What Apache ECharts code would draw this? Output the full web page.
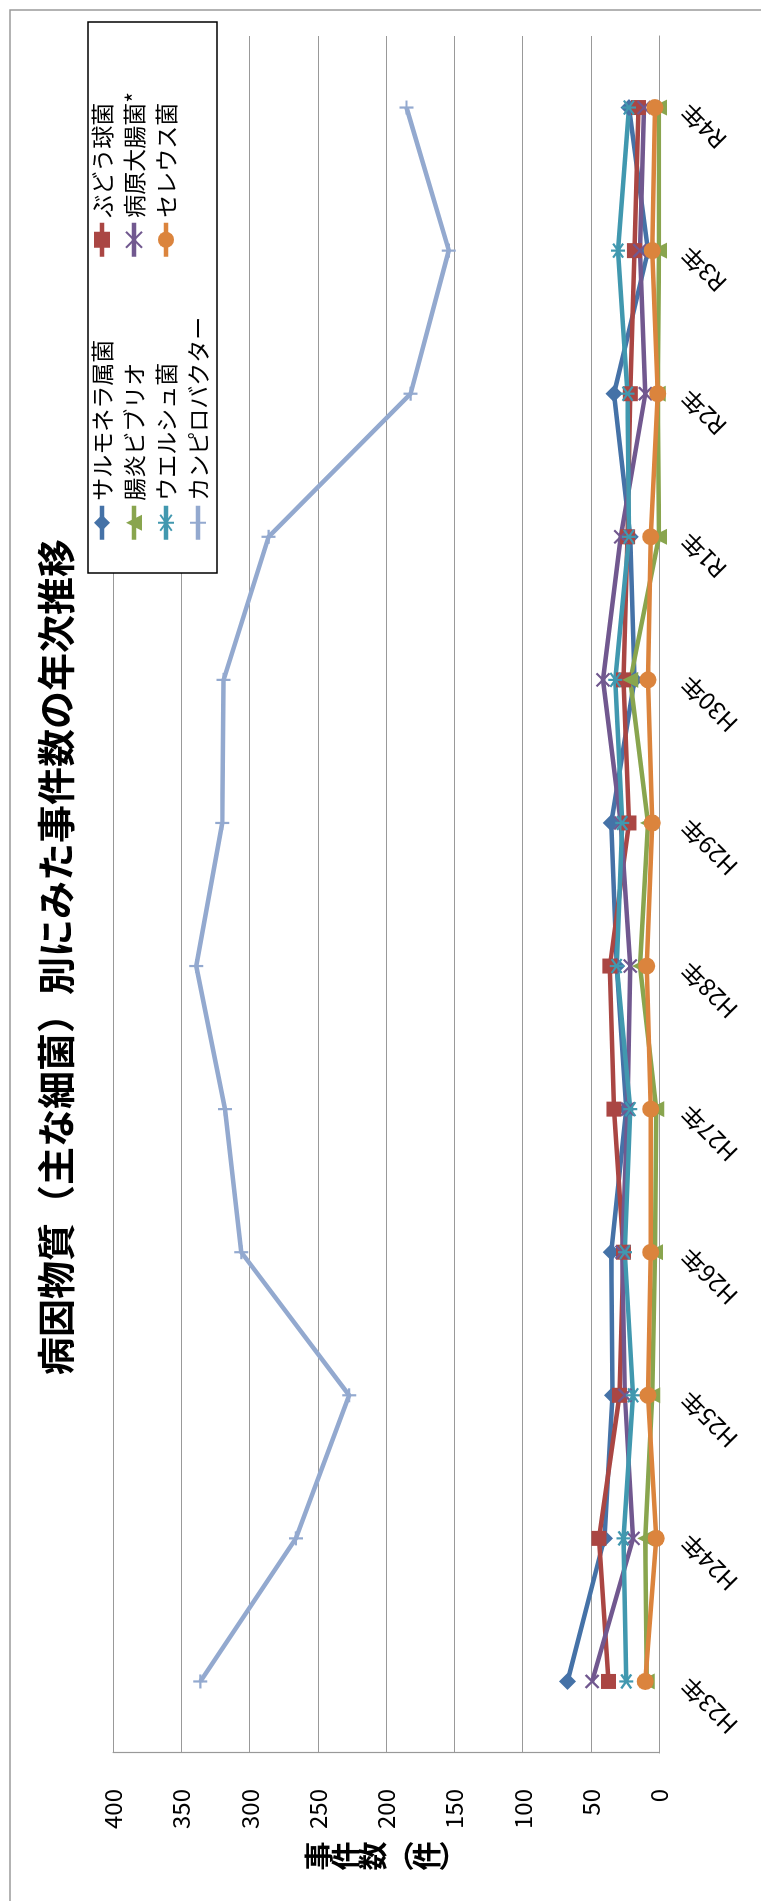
<!DOCTYPE html>
<html><head><meta charset="utf-8">
<script src="https://cdn.jsdelivr.net/npm/echarts@6/dist/echarts.min.js"></script>
<style>html,body{margin:0;padding:0;overflow:hidden;background:#fff;width:761px;height:1901px}
#wrap{position:absolute;left:0;top:1901px;width:1901px;height:761px;transform-origin:0 0;transform:rotate(-90deg)}
#chart{width:1901px;height:761px}</style>
</head><body>
<div id="wrap"><div id="chart"></div></div>
<script>
const categories = ['H23年','H24年','H25年','H26年','H27年','H28年','H29年','H30年','R1年','R2年','R3年','R4年'];
const seriesNames = ['サルモネラ属菌','ぶどう球菌','腸炎ビブリオ','病原大腸菌*','ウエルシュ菌','セレウス菌','カンピロバクター'];
const salmonella = [67,40,34,35,24,31,35,18,21,33,8,22];
const staph = [37,44,29,26,33,36,22,26,23,21,18,15];
const vibrio = [9,10,5,3,2,14,8,21,0,1,0,0];
const ecoli = [49,19,25,27,23,21,28,41,28,10,14,11];
const welchii = [24,26,19,25,21,31,27,32,22,23,30,22];
const cereus = [10,2,8,6,6,9,5,8,6,1,5,3];
const campylo = [336,266,227,306,318,339,320,319,286,182,154,185];
const yMin = 0, yMax = 400, yStep = 50;
const titleText = '病因物質（主な細菌）別にみた事件数の年次推移';
const axisNameText = '事\n件\n数\n︵\n件\n︶';

const FONT = '"Noto Sans CJK JP", "Noto Sans", sans-serif';
const colors = ['#4572A7','#AA4643','#89A54E','#71588F','#4198AF','#DB843D','#93A9CF'];
const symbols = ['diamond','rect','triangle','path://M0,0L10,10M10,0L0,10','path://M0,0L10,10M10,0L0,10M5,-2L5,12','circle','path://M5,0L5,10M0,5L10,5'];
const sizes = [17,15,16,13,14,17,14];
const stroked = [false,false,false,true,true,false,true];
const datas = [salmonella,staph,vibrio,ecoli,welchii,cereus,campylo];

const series = seriesNames.map((n,i)=>({
  name:n, type:'line', data:datas[i], color:colors[i],
  symbol:symbols[i], symbolSize:sizes[i], showAllSymbol:true,
  lineStyle:{width:4.5,color:colors[i]},
  itemStyle: stroked[i] ? {color:colors[i],borderColor:colors[i],borderWidth:2.2} : {color:colors[i],borderWidth:0},
  emphasis:{disabled:true}
}));

const legendCommon = {orient:'vertical', itemWidth:34, itemHeight:20, itemGap:8, padding:0, selectedMode:false,
  lineStyle:{width:4.5},
  textStyle:{fontSize:23,color:'#000',lineHeight:24,fontFamily:FONT}};

const chart = echarts.init(document.getElementById('chart'), null, {renderer:'canvas'});
chart.setOption({
  animation:false,
  textStyle:{fontFamily:FONT},
  grid:{left:148,right:36,top:113,bottom:102},
  xAxis:{type:'category',data:categories,boundaryGap:true,
    axisLine:{lineStyle:{color:'#999',width:1.2}},axisTick:{show:false},
    axisLabel:{rotate:45,interval:0,fontSize:24,color:'#000',margin:26,fontFamily:FONT}},
  yAxis:{type:'value',min:yMin,max:yMax,interval:yStep,
    axisLine:{show:true,lineStyle:{color:'#999',width:1.2}},axisTick:{show:false},
    splitLine:{lineStyle:{color:'#999',width:1.2}},
    axisLabel:{fontSize:24,color:'#000',margin:36,fontFamily:FONT}},
  legend:[
    Object.assign({data:[seriesNames[0],seriesNames[2],seriesNames[4],seriesNames[6]],left:1359,top:90}, legendCommon),
    Object.assign({data:[seriesNames[1],seriesNames[3],seriesNames[5]],left:1642,top:90}, legendCommon)
  ],
  graphic:[
    {type:'rect',z:0,silent:true,shape:{x:-10,y:10,width:1901,height:800},style:{fill:'none',stroke:'#9a9a9a',lineWidth:1.5}},
    {type:'rect',z:3,silent:true,shape:{x:1328,y:88,width:551,height:129},style:{fill:'#fff',stroke:'#000',lineWidth:1.5}},
    {type:'text',z:10,silent:true,x:944,y:56,style:{text:titleText,font:'bold 38px '+FONT,fill:'#000',align:'center',verticalAlign:'middle'}},
    {type:'text',z:10,silent:true,x:45,y:386,style:{text:axisNameText,font:'bold 29px '+FONT,lineHeight:27,fill:'#000',align:'center',verticalAlign:'middle'}}
  ],
  series:series
});
</script>
</body></html>
